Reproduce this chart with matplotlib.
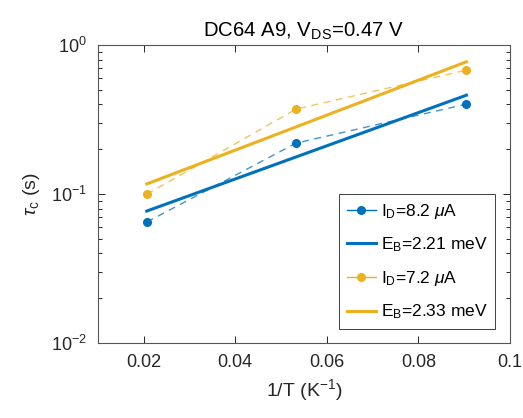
import numpy as np
import matplotlib
matplotlib.use("Agg")
import matplotlib.pyplot as plt
from matplotlib.ticker import FixedLocator, LogLocator, NullFormatter

plt.rcParams['font.family'] = ['Liberation Sans', 'DejaVu Sans']
plt.rcParams['mathtext.fontset'] = 'custom'
plt.rcParams['mathtext.rm'] = 'Liberation Sans'
plt.rcParams['mathtext.it'] = 'Liberation Sans:italic'
plt.rcParams['mathtext.default'] = 'regular'

# 1/T values (K^-1) and measured capture times (s)
invT = [0.0207, 0.0533, 0.0905]
tau_82 = [0.065, 0.220, 0.402]
tau_72 = [0.100, 0.372, 0.680]

# activation energies from the Arrhenius fits (meV) and prefactors (s)
EB = [2.21, 2.33]
tau0 = [0.0453, 0.0669]
kB = 8.617e-2  # meV/K

blue = '#0072BD'
yellow = '#EDB120'

fig = plt.figure(figsize=(5.23, 4.18), dpi=100)
ax = fig.add_axes([0.187, 0.179, 0.788, 0.713])

xfit = np.array([invT[0], invT[-1]])
fit_82 = tau0[0] * np.exp(EB[0] / kB * xfit)
fit_72 = tau0[1] * np.exp(EB[1] / kB * xfit)

ax.plot(invT, tau_82, '--', color=blue, lw=1.0, alpha=0.75, dashes=(5, 4))
ax.plot(invT, tau_82, 'o', color=blue, ms=5.5)
ax.plot(xfit, fit_82, '-', color=blue, lw=2.2)
ax.plot(invT, tau_72, '--', color=yellow, lw=1.0, alpha=0.75, dashes=(5, 4))
ax.plot(invT, tau_72, 'o', color=yellow, ms=5.5)
ax.plot(xfit, fit_72, '-', color=yellow, lw=2.2)

# legend handles: thin line with marker for data, thick line for fits
h1, = ax.plot([], [], '-o', color=blue, lw=1.0, ms=5.5)
h2, = ax.plot([], [], '-', color=blue, lw=2.2)
h3, = ax.plot([], [], '-o', color=yellow, lw=1.0, ms=5.5)
h4, = ax.plot([], [], '-', color=yellow, lw=2.2)
leg = ax.legend([h1, h2, h3, h4],
                [r'I$_D$=8.2 $\mathit{\mu}$A', r'E$_B$=2.21 meV',
                 r'I$_D$=7.2 $\mathit{\mu}$A', r'E$_B$=2.33 meV'],
                loc='lower right', bbox_to_anchor=(0.973, 0.035),
                fontsize=12.5, fancybox=False, framealpha=1,
                edgecolor='#404040', handlelength=1.65, borderpad=0.45,
                labelspacing=0.85, handletextpad=0.3, borderaxespad=0.2)
leg.get_frame().set_linewidth(0.7)

ax.set_yscale('log')
ax.set_xlim(0.01, 0.1)
ax.set_ylim(1e-2, 1e0)
ax.xaxis.set_major_locator(FixedLocator([0.02, 0.04, 0.06, 0.08, 0.1]))
ax.set_xticklabels(['0.02', '0.04', '0.06', '0.08', '0.1'])
ax.yaxis.set_major_locator(LogLocator(base=10, numticks=5))
ax.yaxis.set_minor_locator(LogLocator(base=10, subs=np.arange(2, 10), numticks=20))
ax.yaxis.set_minor_formatter(NullFormatter())

ax.tick_params(which='both', direction='in', top=True, right=True,
               labelsize=13, colors='#262626', width=0.7)
ax.tick_params(which='major', length=5, pad=8)
ax.tick_params(which='minor', length=3)
for s in ax.spines.values():
    s.set_color('#555555')
    s.set_linewidth(0.8)

ax.set_xlabel(r'1/T (K$^{-1}$)', fontsize=14, color='#262626')
ax.set_ylabel(r'$\mathit{\tau}_{c}$ (s)', fontsize=14, color='#262626', labelpad=6)
ax.set_title(r'DC64 A9, V$_{DS}$=0.47 V', fontsize=14.7, color='#000000')

fig.savefig('out.png', dpi=100)
